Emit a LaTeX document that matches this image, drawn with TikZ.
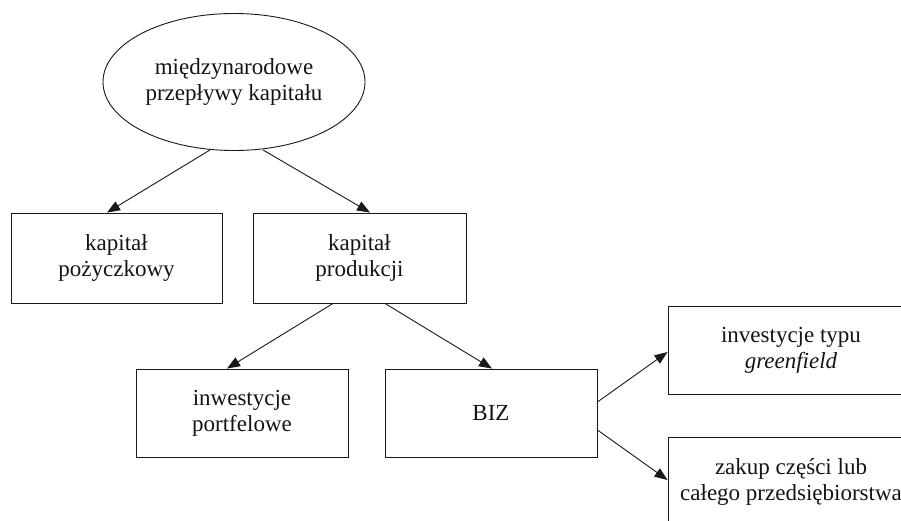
\documentclass[tikz,border=0pt]{standalone}
\usepackage{fontspec}
\setmainfont{Liberation Serif}
\usetikzlibrary{arrows.meta,shapes.geometric}
\begin{document}
\begin{tikzpicture}[x=1pt,y=-1pt,
  every node/.style={font=\fontsize{23}{26}\selectfont, text=black!92, align=center, inner sep=0pt},
  box/.style={draw=black!90, line width=0.9pt, rectangle},
  oval/.style={draw=black!90, line width=0.9pt, ellipse},
  arr/.style={draw=black!90, line width=0.9pt, -{Triangle[length=13pt,width=10pt]}}]
  \useasboundingbox (0,0) rectangle (901,521);
  \clip (0,0) rectangle (901,521);

  % top level
  \node[oval, minimum width=262pt, minimum height=137pt] (ell) at (234,82)
    {międzynarodowe\\przepływy kapitału};

  % second level
  \node[box, minimum width=211pt, minimum height=90pt] (b1) at (116.5,258)
    {kapitał\\pożyczkowy};
  \node[box, minimum width=213pt, minimum height=90pt] (b2) at (359.5,258)
    {kapitał\\produkcji};

  % third level
  \node[box, minimum width=212pt, minimum height=88pt] (b3) at (242,413)
    {inwestycje\\portfelowe};
  \node[box, minimum width=212pt, minimum height=88pt] (b4) at (491,413)
    {BIZ};

  % forms of direct investment
  \node[box, minimum width=246pt, minimum height=88pt] (b5) at (791,350)
    {investycje typu\\\textit{greenfield}};
  \node[box, minimum width=246pt, minimum height=90pt] (b6) at (791,482)
    {zakup części lub\\całego przedsiębiorstwa};

  % connectors
  \draw[arr] ([xshift=-24pt,yshift=1pt]ell.south) -- ([xshift=-9.5pt]b1.north);
  \draw[arr] ([xshift=29pt,yshift=1pt]ell.south) -- ([xshift=10.5pt]b2.north);
  \draw[arr] ([xshift=-26.5pt]b2.south) -- ([xshift=-15pt]b3.north);
  \draw[arr] ([xshift=25.5pt]b2.south) -- ([xshift=1pt]b4.north);
  \draw[arr] ([yshift=11pt]b4.east) -- ([yshift=-2pt]b5.west);
  \draw[arr] ([yshift=-17pt]b4.east) -- ([yshift=2pt]b6.west);
\end{tikzpicture}
\end{document}
